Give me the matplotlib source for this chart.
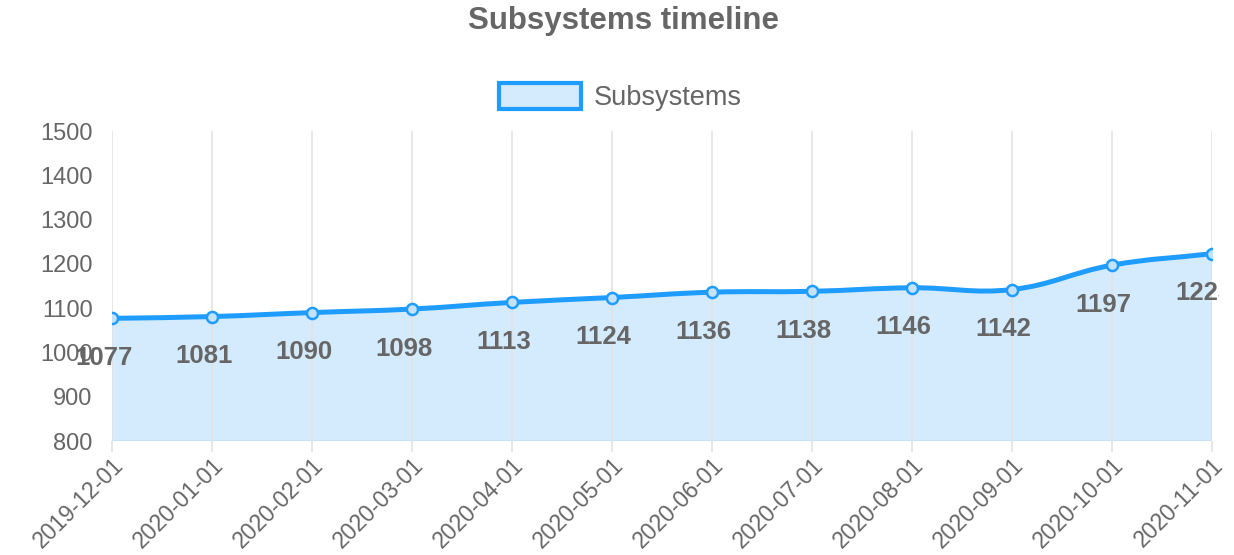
import numpy as np
import matplotlib
matplotlib.use("Agg")
import matplotlib.pyplot as plt
from matplotlib.path import Path
from matplotlib.patches import PathPatch, Rectangle
from matplotlib.transforms import Bbox, TransformedBbox

dates = ["2019-12-01", "2020-01-01", "2020-02-01", "2020-03-01", "2020-04-01", "2020-05-01",
         "2020-06-01", "2020-07-01", "2020-08-01", "2020-09-01", "2020-10-01", "2020-11-01"]
subsystems = [1077, 1081, 1090, 1098, 1113, 1124, 1136, 1138, 1146, 1142, 1197, 1223]
y_ticks = [800, 900, 1000, 1100, 1200, 1300, 1400, 1500]

line_color = "#1f9cff"
fill_color = "#d3ebfc"
text_color = "#666666"

plt.rcParams["font.family"] = ["Liberation Sans", "DejaVu Sans"]

fig = plt.figure(figsize=(12.34, 5.55), dpi=100)
ax = fig.add_axes([112 / 1234, 114 / 555, 1100 / 1234, 310 / 555])
ax.set_xlim(0, len(dates) - 1)
ax.set_ylim(y_ticks[0], y_ticks[-1])

# chart.js style bezier (tension 0.4), computed in pixel space
x = np.arange(len(subsystems))
pts = ax.transData.transform(np.column_stack([x, subsystems]))
inv = ax.transData.inverted()
t = 0.4
verts = [pts[0]]
codes = [Path.MOVETO]
ctrl = []
for i in range(len(pts)):
    prev = pts[i - 1] if i > 0 else pts[i]
    nxt = pts[i + 1] if i < len(pts) - 1 else pts[i]
    d01 = np.hypot(*(pts[i] - prev))
    d12 = np.hypot(*(nxt - pts[i]))
    tot = d01 + d12
    s01 = d01 / tot if tot else 0
    s12 = d12 / tot if tot else 0
    ctrl.append((pts[i] - t * s01 * (nxt - prev), pts[i] + t * s12 * (nxt - prev)))
for i in range(1, len(pts)):
    verts += [ctrl[i - 1][1], ctrl[i][0], pts[i]]
    codes += [Path.CURVE4] * 3
verts = inv.transform(np.array(verts))
line_path = Path(verts, codes)

fill_verts = np.vstack([verts, [[x[-1], y_ticks[0]], [x[0], y_ticks[0]], verts[0]]])
fill_codes = codes + [Path.LINETO, Path.LINETO, Path.CLOSEPOLY]
ax.add_patch(PathPatch(Path(fill_verts, fill_codes), facecolor=fill_color, edgecolor="#bfdff5",
                       lw=1, zorder=1))
ax.add_patch(PathPatch(line_path, facecolor="none", edgecolor=line_color, lw=3.6,
                       capstyle="round", joinstyle="round", zorder=3))
ax.plot(x, subsystems, "o", ms=8, mfc="#c4e3fb", mec=line_color, mew=1.8, zorder=4)

clip = TransformedBbox(Bbox([[0, 0], [1219 / 1234, 1]]), fig.transFigure)
for xi, v in zip(x, subsystems):
    txt = ax.annotate(str(v), (xi, v), xytext=(-6, -28.5), textcoords="offset points",
                      ha="center", va="center", fontsize=18.5, fontweight="bold",
                      color=text_color, zorder=5, annotation_clip=False)
    txt.set_clip_box(clip)
    txt.set_clip_on(True)

ax.set_xticks(x)
ax.set_xticklabels(dates, rotation=45, ha="right", va="top", rotation_mode="anchor")
ax.set_yticks(y_ticks)
ax.grid(axis="x", color="#e3e3e3", lw=1.2, zorder=0)
ax.tick_params(axis="x", length=8, color="#e3e3e3", width=1.2, pad=1, labelsize=16.5,
               labelcolor=text_color)
ax.tick_params(axis="y", length=0, pad=14, labelsize=17, labelcolor=text_color)
for s in ax.spines.values():
    s.set_visible(False)

fig.text(0.505, 0.962, "Subsystems timeline", ha="center", va="center", fontsize=22.5,
         fontweight="bold", color=text_color)
handle = Rectangle((0, 0), 1, 1, facecolor=fill_color, edgecolor=line_color, lw=3)
leg = fig.legend([handle], ["Subsystems"], loc="center", bbox_to_anchor=(0.503, 0.825),
                 frameon=False, fontsize=19.5, handlelength=3.0, handleheight=1.1,
                 handletextpad=0.5)
for tx in leg.get_texts():
    tx.set_color(text_color)

fig.savefig("out.png", dpi=100)
